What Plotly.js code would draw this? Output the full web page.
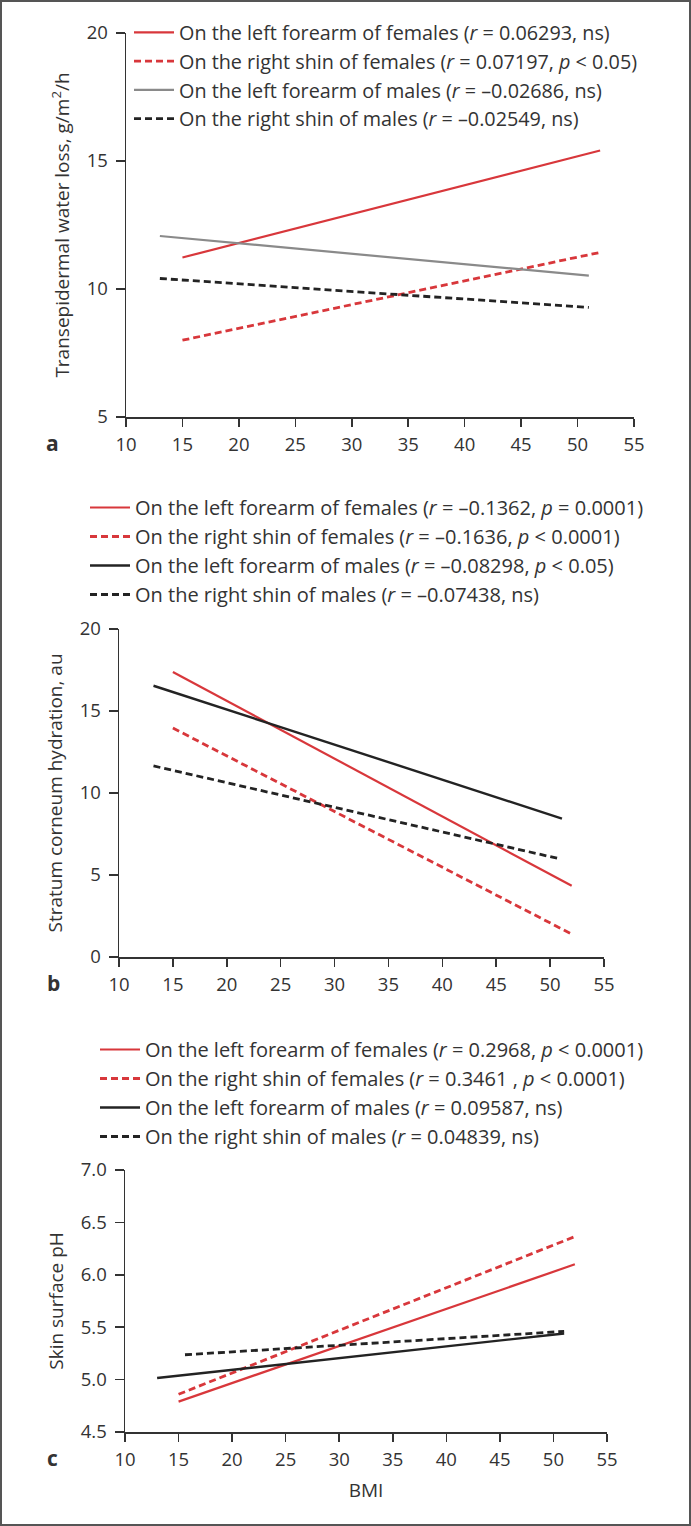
<!DOCTYPE html>
<html>
<head>
<meta charset="utf-8">
<script src="https://cdn.plot.ly/plotly-3.0.1.min.js"></script>
<style>
  html, body { margin: 0; padding: 0; background: #fff; }
  #chart { width: 691px; height: 1526px; }
</style>
</head>
<body>
<div id="chart"></div>
<script>
// ---------- Data ----------
// Panel a: Transepidermal water loss (g/m2/h) vs BMI
const bmiA_femArm = [15, 52];
const tewl_femArm = [11.23, 15.41];
const bmiA_femShin = [15, 52];
const tewl_femShin = [8.0, 11.43];
const bmiA_maleArm = [13, 51];
const tewl_maleArm = [12.07, 10.52];
const bmiA_maleShin = [13, 51];
const tewl_maleShin = [10.41, 9.28];

// Panel b: Stratum corneum hydration (au) vs BMI
const bmiB_femArm = [15, 52];
const sch_femArm = [17.38, 4.34];
const bmiB_femShin = [15, 52];
const sch_femShin = [13.96, 1.4];
const bmiB_maleArm = [13.2, 51.1];
const sch_maleArm = [16.54, 8.44];
const bmiB_maleShin = [13.2, 50.8];
const sch_maleShin = [11.65, 6.0];

// Panel c: Skin surface pH vs BMI
const bmiC_femArm = [15, 52];
const ph_femArm = [4.79, 6.10];
const bmiC_femShin = [15, 52];
const ph_femShin = [4.86, 6.365];
const bmiC_maleArm = [13, 51];
const ph_maleArm = [5.015, 5.44];
const bmiC_maleShin = [15.6, 51];
const ph_maleShin = [5.237, 5.46];

// Legend labels
const labelsA = [
  'On the left forearm of females (<i>r</i> = 0.06293, ns)',
  'On the right shin of females (<i>r</i> = 0.07197, <i>p</i> &lt; 0.05)',
  'On the left forearm of males (<i>r</i> = \u20130.02686, ns)',
  'On the right shin of males (<i>r</i> = \u20130.02549, ns)'
];
const labelsB = [
  'On the left forearm of females (<i>r</i> = \u20130.1362, <i>p</i> = 0.0001)',
  'On the right shin of females (<i>r</i> = \u20130.1636, <i>p</i> &lt; 0.0001)',
  'On the left forearm of males (<i>r</i> = \u20130.08298, <i>p</i> &lt; 0.05)',
  'On the right shin of males (<i>r</i> = \u20130.07438, ns)'
];
const labelsC = [
  'On the left forearm of females (<i>r</i> = 0.2968, <i>p</i> &lt; 0.0001)',
  'On the right shin of females (<i>r</i> = 0.3461 , <i>p</i> &lt; 0.0001)',
  'On the left forearm of males (<i>r</i> = 0.09587, ns)',
  'On the right shin of males (<i>r</i> = 0.04839, ns)'
];

const xTicks = [10, 15, 20, 25, 30, 35, 40, 45, 50, 55];
const yTicksA = [5, 10, 15, 20];
const yTicksB = [0, 5, 10, 15, 20];
const yTicksC = [4.5, 5.0, 5.5, 6.0, 6.5, 7.0];
const yTickTextC = ['4.5', '5.0', '5.5', '6.0', '6.5', '7.0'];

// ---------- Styling ----------
const RED = '#d8373b';
const GRAY = '#8a8a8a';
const BLACK = '#232323';
const FONT = 'Open Sans, sans-serif';
const TXT = '#333333';
const DASH = '7px,4px';

function tr(x, y, name, color, dash, width, xa, ya, legend, group) {
  return {
    x: x, y: y, name: name, type: 'scatter', mode: 'lines',
    line: { color: color, dash: dash, width: width },
    xaxis: xa, yaxis: ya, legend: legend, legendgroup: group,
    hoverinfo: 'skip'
  };
}

const data = [
  tr(bmiA_femArm, tewl_femArm, labelsA[0], RED, 'solid', 2.2, 'x', 'y', 'legend', 'a1'),
  tr(bmiA_femShin, tewl_femShin, labelsA[1], RED, DASH, 2.8, 'x', 'y', 'legend', 'a2'),
  tr(bmiA_maleArm, tewl_maleArm, labelsA[2], GRAY, 'solid', 2.2, 'x', 'y', 'legend', 'a3'),
  tr(bmiA_maleShin, tewl_maleShin, labelsA[3], BLACK, DASH, 2.8, 'x', 'y', 'legend', 'a4'),

  tr(bmiB_femArm, sch_femArm, labelsB[0], RED, 'solid', 2.2, 'x2', 'y2', 'legend2', 'b1'),
  tr(bmiB_femShin, sch_femShin, labelsB[1], RED, DASH, 2.8, 'x2', 'y2', 'legend2', 'b2'),
  tr(bmiB_maleArm, sch_maleArm, labelsB[2], BLACK, 'solid', 2.4, 'x2', 'y2', 'legend2', 'b3'),
  tr(bmiB_maleShin, sch_maleShin, labelsB[3], BLACK, DASH, 2.8, 'x2', 'y2', 'legend2', 'b4'),

  tr(bmiC_femArm, ph_femArm, labelsC[0], RED, 'solid', 2.2, 'x3', 'y3', 'legend3', 'c1'),
  tr(bmiC_femShin, ph_femShin, labelsC[1], RED, DASH, 2.8, 'x3', 'y3', 'legend3', 'c2'),
  tr(bmiC_maleArm, ph_maleArm, labelsC[2], BLACK, 'solid', 2.4, 'x3', 'y3', 'legend3', 'c3'),
  tr(bmiC_maleShin, ph_maleShin, labelsC[3], BLACK, DASH, 2.8, 'x3', 'y3', 'legend3', 'c4')
];

const W = 691, H = 1526;
const px = v => v / W;
const py = v => 1 - v / H;

function xaxisDef(domain, anchor, title) {
  const o = {
    domain: domain, anchor: anchor, range: [10, 55],
    tickmode: 'array', tickvals: xTicks,
    ticks: 'outside', ticklen: 8, tickwidth: 1.5, tickcolor: '#333',
    showline: true, linecolor: '#333', linewidth: 1.5,
    showgrid: false, zeroline: false, fixedrange: true,
    tickfont: { family: FONT, size: 18.5, color: TXT },
    ticklabelstandoff: 2
  };
  if (title) o.title = { text: title, font: { family: FONT, size: 19, color: TXT }, standoff: 14 };
  return o;
}
function yaxisDef(domain, anchor, range, tv, tt, title) {
  const o = {
    domain: domain, anchor: anchor, range: range,
    tickmode: 'array', tickvals: tv,
    ticks: 'outside', ticklen: 9, tickwidth: 1.5, tickcolor: '#333',
    showline: true, linecolor: '#333', linewidth: 1.5,
    showgrid: false, zeroline: false, fixedrange: true,
    tickfont: { family: FONT, size: 18.5, color: TXT },
    ticklabelstandoff: 4,
    title: { text: title, font: { family: FONT, size: 19, color: TXT }, standoff: 12 }
  };
  if (tt) o.ticktext = tt;
  return o;
}

function legendDef(xLeft, yTop, fs, gap) {
  return {
    x: px(xLeft), y: py(yTop), xanchor: 'left', yanchor: 'top',
    bgcolor: 'rgba(0,0,0,0)', borderwidth: 0,
    font: { family: FONT, size: fs, color: TXT },
    tracegroupgap: gap, itemwidth: 40,
    traceorder: 'normal'
  };
}

const layout = {
  width: W, height: H,
  margin: { l: 0, r: 0, t: 0, b: 0 },
  paper_bgcolor: '#ffffff', plot_bgcolor: '#ffffff',
  showlegend: true,
  font: { family: FONT, color: TXT },
  xaxis: xaxisDef([px(126), px(634)], 'y', null),
  yaxis: yaxisDef([py(417), py(33)], 'x', [5, 20], yTicksA, null, 'Transepidermal water loss, g/m<sup>2</sup>/h'),
  xaxis2: xaxisDef([px(119), px(604)], 'y2', null),
  yaxis2: yaxisDef([py(957), py(629)], 'x2', [0, 20], yTicksB, null, 'Stratum corneum hydration, au'),
  xaxis3: xaxisDef([px(125), px(607)], 'y3', 'BMI'),
  yaxis3: yaxisDef([py(1432), py(1170)], 'x3', [4.5, 7.0], yTicksC, yTickTextC, 'Skin surface pH'),
  legend: legendDef(129, 13, 19.8, 5),
  legend2: legendDef(85, 488, 20, 4.3),
  legend3: legendDef(95, 1030, 20, 5),
  annotations: [
    { text: '<b>a</b>', x: px(52), y: py(443), xref: 'paper', yref: 'paper', showarrow: false,
      xanchor: 'center', yanchor: 'middle', font: { family: FONT, size: 21, color: TXT } },
    { text: '<b>b</b>', x: px(53), y: py(983), xref: 'paper', yref: 'paper', showarrow: false,
      xanchor: 'center', yanchor: 'middle', font: { family: FONT, size: 21, color: TXT } },
    { text: '<b>c</b>', x: px(52), y: py(1458), xref: 'paper', yref: 'paper', showarrow: false,
      xanchor: 'center', yanchor: 'middle', font: { family: FONT, size: 21, color: TXT } }
  ],
  shapes: [
    { type: 'rect', xref: 'paper', yref: 'paper', x0: px(1), x1: px(690), y0: py(1525), y1: py(1),
      line: { color: '#555555', width: 2 }, fillcolor: 'rgba(0,0,0,0)' }
  ]
};

Plotly.newPlot('chart', data, layout, { staticPlot: true, displayModeBar: false });
</script>
</body>
</html>
